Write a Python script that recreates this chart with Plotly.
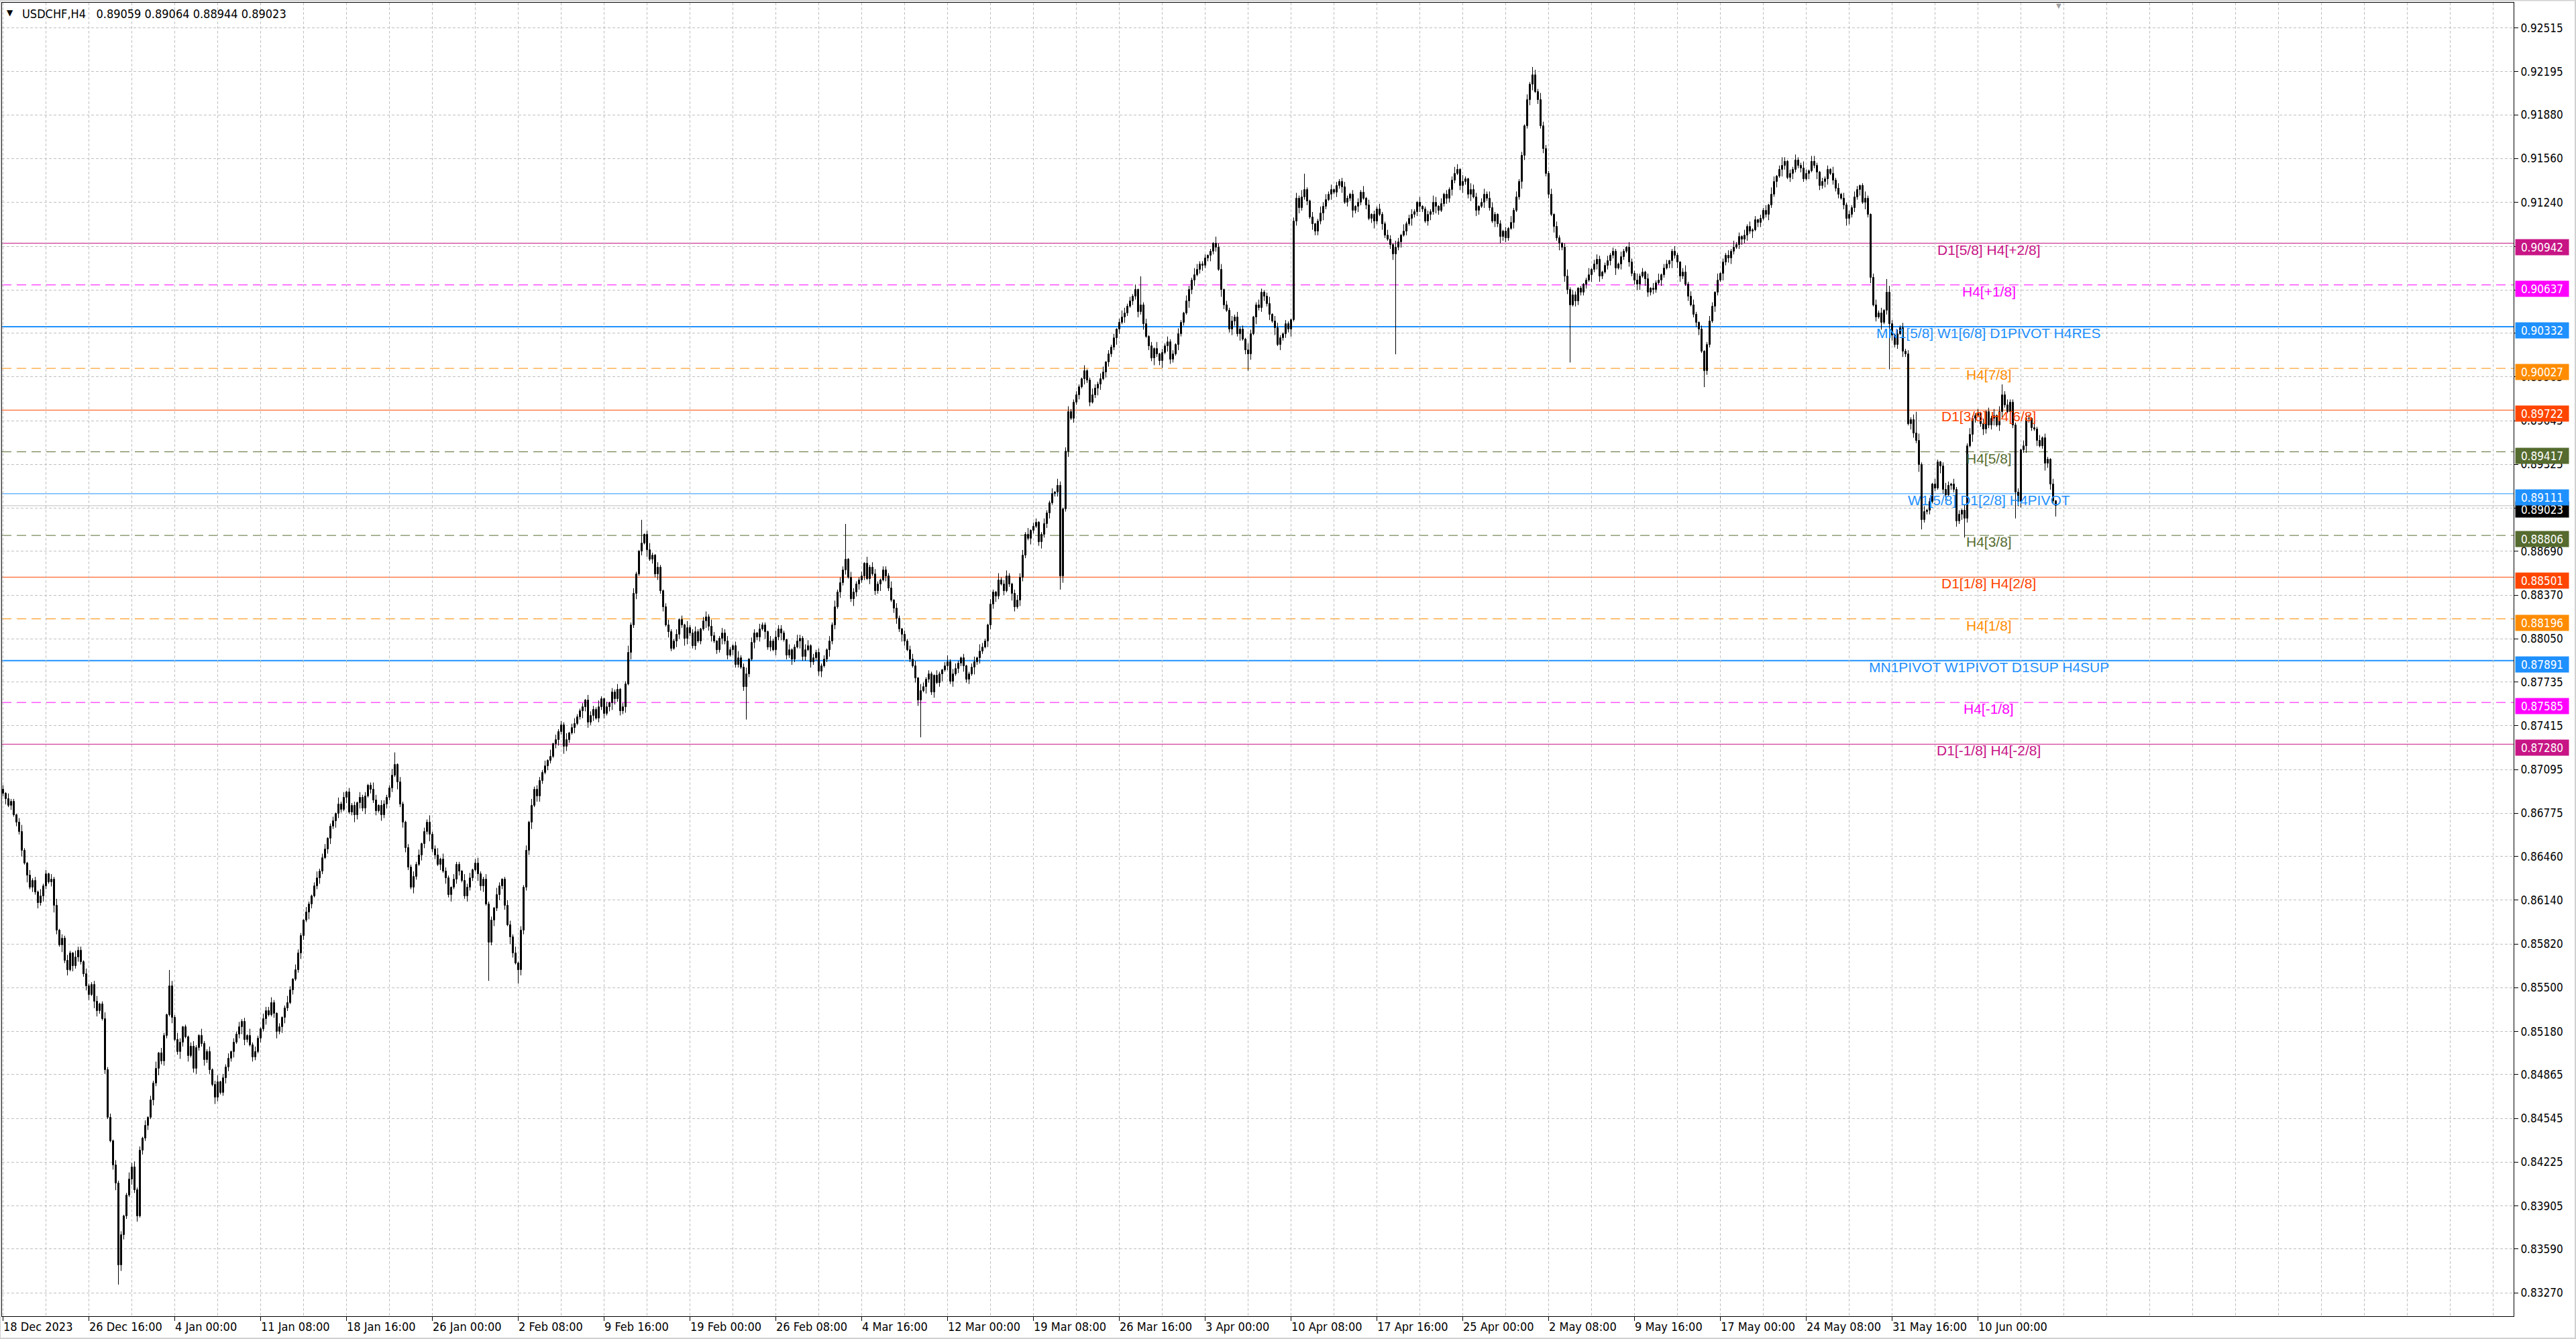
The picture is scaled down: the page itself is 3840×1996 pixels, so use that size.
import numpy as np
import plotly.graph_objects as go

# chart header
symbol_text = "USDCHF,H4\u00a0\u00a0 0.89059 0.89064 0.88944 0.89023"

# H4 closes in pips (0.xxxx), bar 0 = 18 Dec 2023 00:00
first_open_pips = 8695
close_pips = [
    8692, 8688, 8683, 8686, 8676, 8671, 8664, 8650, 8641, 8632, 8623, 8628, 8620, 8612, 8617,
    8624, 8633, 8627, 8629, 8610, 8592, 8581, 8586, 8570, 8563, 8575, 8566, 8572, 8577, 8569,
    8560, 8551, 8545, 8552, 8540, 8533, 8538, 8527, 8490, 8455, 8438, 8420, 8407, 8347, 8369,
    8383, 8398, 8410, 8419, 8402, 8383, 8431, 8440, 8449, 8455, 8468, 8480, 8491, 8502, 8496,
    8515, 8530, 8551, 8528, 8512, 8503, 8510, 8521, 8514, 8500, 8507, 8491, 8506, 8515, 8509,
    8497, 8503, 8490, 8479, 8470, 8481, 8473, 8484, 8492, 8498, 8503, 8510, 8516, 8521, 8525,
    8512, 8515, 8508, 8499, 8503, 8513, 8520, 8527, 8533, 8530, 8539, 8531, 8518, 8521, 8528,
    8535, 8539, 8548, 8556, 8563, 8575, 8588, 8599, 8605, 8611, 8617, 8624, 8630, 8635, 8645,
    8651, 8659, 8668, 8672, 8677, 8684, 8680, 8689, 8693, 8678, 8683, 8676, 8685, 8689, 8681,
    8690, 8698, 8695, 8687, 8679, 8683, 8676, 8684, 8689, 8696, 8705, 8713, 8700, 8684, 8671,
    8652, 8638, 8623, 8631, 8640, 8647, 8655, 8664, 8671, 8662, 8651, 8647, 8640, 8644, 8635,
    8630, 8618, 8623, 8629, 8640, 8635, 8628, 8617, 8623, 8630, 8636, 8641, 8633, 8624, 8629,
    8611, 8583, 8599, 8608, 8618, 8624, 8629, 8610, 8596, 8587, 8575, 8568, 8563, 8592, 8623,
    8650, 8671, 8683, 8695, 8690, 8701, 8707, 8712, 8716, 8719, 8728, 8731, 8737, 8742, 8726,
    8731, 8736, 8740, 8743, 8748, 8752, 8755, 8760, 8744, 8749, 8753, 8747, 8755, 8761, 8750,
    8755, 8758, 8766, 8761, 8768, 8752, 8755, 8772, 8795, 8815, 8838, 8852, 8869, 8875, 8881,
    8870, 8863, 8866, 8852, 8857, 8840, 8828, 8815, 8810, 8798, 8803, 8808, 8819, 8815, 8805,
    8813, 8809, 8800, 8810, 8803, 8812, 8818, 8821, 8814, 8807, 8803, 8797, 8805, 8809, 8803,
    8793, 8797, 8800, 8786, 8791, 8784, 8770, 8779, 8790, 8802, 8809, 8806, 8812, 8815, 8810,
    8799, 8803, 8797, 8806, 8812, 8809, 8804, 8793, 8797, 8790, 8799, 8803, 8805, 8792, 8797,
    8800, 8788, 8791, 8795, 8781, 8785, 8790, 8797, 8803, 8815, 8828, 8839, 8846, 8855, 8863,
    8850, 8834, 8839, 8845, 8848, 8851, 8860, 8849, 8857, 8852, 8840, 8845, 8848, 8855, 8851,
    8842, 8833, 8827, 8820, 8812, 8808, 8803, 8797, 8790, 8785, 8776, 8760, 8767, 8770, 8775,
    8779, 8766, 8778, 8773, 8779, 8782, 8785, 8788, 8774, 8779, 8783, 8787, 8791, 8785, 8775,
    8779, 8784, 8788, 8791, 8796, 8799, 8803, 8815, 8830, 8839, 8836, 8848, 8845, 8840, 8851,
    8845, 8838, 8828, 8833, 8850, 8866, 8881, 8878, 8884, 8887, 8890, 8876, 8881, 8889, 8897,
    8904, 8911, 8912, 8917, 8851, 8900, 8942, 8971, 8966, 8978, 8983, 8989, 8995, 9001, 8994,
    8978, 8983, 8988, 8991, 8995, 9000, 9007, 9013, 9018, 9025, 9031, 9036, 9040, 9043, 9048,
    9052, 9055, 9060, 9044, 9049, 9035, 9026, 9019, 9010, 9017, 9013, 9008, 9014, 9019, 9022,
    9009, 9013, 9020, 9028, 9036, 9043, 9052, 9060, 9067, 9071, 9075, 9079, 9078, 9083, 9085,
    9088, 9094, 9091, 9075, 9060, 9049, 9045, 9031, 9037, 9040, 9028, 9031, 9024, 9016, 9013,
    9028, 9040, 9049, 9047, 9058, 9055, 9050, 9042, 9037, 9032, 9020, 9025, 9028, 9035, 9031,
    9038, 9110, 9127, 9120, 9128, 9133, 9125, 9113, 9108, 9103, 9110, 9116, 9121, 9126, 9130,
    9133, 9131, 9136, 9139, 9135, 9124, 9127, 9130, 9118, 9121, 9124, 9131, 9127, 9122, 9112,
    9115, 9110, 9119, 9115, 9108, 9100, 9097, 9093, 9086, 9091, 9095, 9100, 9103, 9108, 9112,
    9115, 9117, 9124, 9121, 9119, 9110, 9115, 9117, 9124, 9121, 9118, 9123, 9130, 9127, 9133,
    9140, 9145, 9148, 9136, 9139, 9141, 9130, 9133, 9128, 9118, 9121, 9124, 9130, 9127, 9120,
    9110, 9115, 9108, 9099, 9103, 9098, 9105, 9109, 9118, 9128, 9139, 9158, 9180, 9199, 9210,
    9217, 9205, 9199, 9180, 9163, 9145, 9130, 9115, 9106, 9098, 9094, 9091, 9070, 9060, 9049,
    9056, 9052, 9061, 9058, 9064, 9067, 9071, 9075, 9079, 9082, 9070, 9073, 9078, 9081, 9085,
    9088, 9076, 9079, 9084, 9088, 9091, 9080, 9072, 9067, 9064, 9070, 9073, 9068, 9058, 9061,
    9060, 9065, 9067, 9071, 9076, 9079, 9081, 9088, 9085, 9080, 9070, 9073, 9064, 9055, 9049,
    9042, 9036, 9031, 9015, 9001, 9020, 9037, 9048, 9058, 9067, 9072, 9080, 9085, 9083, 9088,
    9091, 9093, 9099, 9097, 9100, 9106, 9103, 9104, 9111, 9109, 9112, 9118, 9115, 9122, 9130,
    9139, 9143, 9148, 9151, 9154, 9142, 9145, 9148, 9155, 9151, 9149, 9141, 9145, 9147, 9154,
    9151, 9146, 9136, 9139, 9141, 9148, 9145, 9140, 9134, 9130, 9127, 9122, 9112, 9115, 9120,
    9128, 9133, 9136, 9124, 9127, 9115, 9069, 9049, 9040, 9043, 9036, 9045, 9058, 9035, 9027,
    9020, 9028, 9032, 9015, 9013, 8962, 8965, 8955, 8950, 8932, 8892, 8898, 8899, 8905, 8918,
    8915, 8934, 8931, 8914, 8910, 8917, 8918, 8914, 8891, 8896, 8899, 8893, 8946, 8954, 8966,
    8968, 8970, 8962, 8958, 8971, 8961, 8966, 8968, 8961, 8971, 8983, 8976, 8971, 8978, 8961,
    8912, 8905, 8943, 8946, 8966, 8966, 8959, 8958, 8950, 8946, 8952, 8933, 8936, 8918, 8905.9,
    8902.3,
]

# wick length per bar in pips, above and below the body
up_wick_pips = (
    "31422 13521 42315 23142 51324 21533 14223 41252 31423 12534"
    "23141 32514 21342 53121 34215 22413 51324 13242 31524 21433"
    "42131 25314 32142 13523 41231 52413 23142 31254 14322 53142"
    "13242 41325 23514 32142 21534 13422 42315 31243 25132 41523"
    "32415 14232 51342 23143 32521 41324 13252 42131 35214 21342"
    "24131 52342 13425 31243 42135 23514 31422 14253 32141 25324"
    "41323 23142 52431 14322 31524 42133 25142 13234 41532 32142"
    "13524 42131 23415 32142 15234 21343 42513 31242 24153 13422"
    "32141 25324 41323 13542 32415 24131 51324 23142 14325 42231"
    "21534 13242 42315 31243 23514 42132 13425 32141 25342 41323"
    "42131 32514 13242 24315 31523 42141 23254 14132 32415 21543"
    "13425 42131 31524 23142 14253 32414 21352 43121 25134 31242"
    "32142 14325 23141 42513 31242 13524 42131 24315 13242 52314"
    "24131 32415 41323 13242 25314 42132 31524 14232 43125 21342"
    "41253 13242 32415 24131 42135 31423 14252 23141 32514 13422"
    "23142 31524 13214 2"
)
down_wick_pips = (
    "24131 32415 13242 42135 31524 14232 23415 42131 13524 32142"
    "41323 14252 32141 25314 13422 42315 31243 24135 42132 13241"
    "13524 42131 24315 31242 13425 32141 25342 41323 14232 31524"
    "32142 14325 23141 42513 31242 21534 13242 42315 31243 23514"
    "42132 13425 32141 25342 41323 13542 32415 24131 51324 23142"
    "14325 42231 21534 13242 31422 13521 42315 23142 51324 21533"
    "14223 41252 31423 12534 23141 32514 21342 53121 34215 22413"
    "51324 13242 31524 21433 42131 25314 32142 13523 41231 52413"
    "23142 31254 14322 53142 13242 41325 23514 32142 21534 13422"
    "42315 31243 25132 41523 32415 14232 51342 23143 32521 41324"
    "13252 42131 35214 21342 24131 52342 13425 31243 42135 23514"
    "31422 14253 32141 25324 41323 23142 52431 14322 31524 42133"
    "25142 13234 41532 32142 13524 42131 23415 32142 15234 21343"
    "42513 31242 24153 13422 32141 25324 41323 13542 32415 24131"
    "51324 23142 14325 42231 21534 13242 42315 31243 23514 42132"
    "13425 32141 25342 4"
)

# long shadows that stand out on the chart (bar index: price in pips)
spike_highs = {62: 8563, 146: 8722, 238: 8892, 314: 8889, 424: 9070, 485: 9145,
               541: 9150, 570: 9223, 663: 9157, 702: 9068, 713: 8971, 745: 8991,
               765: 8906.4}
spike_lows = {43: 8333, 181: 8555, 192: 8553, 277: 8746, 342: 8733, 394: 8841,
              464: 9001, 519: 9013, 584: 9007, 634: 8989, 703: 9002, 715: 8885,
              731: 8879, 750: 8893, 765: 8894.4}

time_labels = ["18 Dec 2023", "26 Dec 16:00", "4 Jan 00:00", "11 Jan 08:00", "18 Jan 16:00",
               "26 Jan 00:00", "2 Feb 08:00", "9 Feb 16:00", "19 Feb 00:00", "26 Feb 08:00",
               "4 Mar 16:00", "12 Mar 00:00", "19 Mar 08:00", "26 Mar 16:00", "3 Apr 00:00",
               "10 Apr 08:00", "17 Apr 16:00", "25 Apr 00:00", "2 May 08:00", "9 May 16:00",
               "17 May 00:00", "24 May 08:00", "31 May 16:00", "10 Jun 00:00"]
bars_per_label = 32

price_ticks = [0.92515, 0.92195, 0.91880, 0.91560, 0.91240, 0.90920, 0.90600, 0.90285,
               0.89965, 0.89645, 0.89325, 0.89005, 0.88690, 0.88370, 0.88050, 0.87735,
               0.87415, 0.87095, 0.86775, 0.86460, 0.86140, 0.85820, 0.85500, 0.85180,
               0.84865, 0.84545, 0.84225, 0.83905, 0.83590, 0.83270]

# Murrey levels: price, colour, dashed, label
level_prices = [0.90942, 0.90637, 0.90332, 0.90027, 0.89722, 0.89417, 0.89111,
                0.88806, 0.88501, 0.88196, 0.87891, 0.87585, 0.87280]
level_colors = ["#C71585", "#FF00FF", "#1E90FF", "#FF8C00", "#FF4500", "#556B2F", "#1E90FF",
                "#556B2F", "#FF4500", "#FF8C00", "#1E90FF", "#FF00FF", "#C71585"]
level_dashed = [False, True, False, True, False, True, False,
                True, False, True, False, True, False]
level_labels = ["D1[5/8] H4[+2/8]", "H4[+1/8]", "MN1[5/8] W1[6/8] D1PIVOT H4RES", "H4[7/8]",
                "D1[3/8] H4[6/8]", "H4[5/8]", "W1[5/8] D1[2/8] H4PIVOT", "H4[3/8]",
                "D1[1/8] H4[2/8]", "H4[1/8]", "MN1PIVOT W1PIVOT D1SUP H4SUP", "H4[-1/8]",
                "D1[-1/8] H4[-2/8]"]
bid_price = 0.89023

# ---- build bars
n = len(close_pips)
close = np.array(close_pips, dtype=float) / 10000
open_ = np.concatenate([[first_open_pips / 10000], close[:-1]])
up = np.array([int(c) for c in up_wick_pips.replace(" ", "")[:n]]) / 10000
down = np.array([int(c) for c in down_wick_pips.replace(" ", "")[:n]]) / 10000
high = np.maximum(open_, close) + up
low = np.minimum(open_, close) - down
for i, v in spike_highs.items():
    high[i] = v / 10000
for i, v in spike_lows.items():
    low[i] = v / 10000
bars = np.arange(n)

W, H = 3840, 1996
ML, MR, MT, MB = 3, 93, 4, 34
GRID = "#C0C0C0"
AXIS_FONT = "DejaVu Sans Condensed, DejaVu Sans, sans-serif"
LABEL_BAR = 740  # where the level captions sit

fig = go.Figure()

# shadows
wx, wy = [], []
for i in range(n):
    wx += [i, i, None]
    wy += [low[i], high[i], None]
fig.add_trace(go.Scatter(x=wx, y=wy, mode="lines", line=dict(color="black", width=1),
                         hoverinfo="skip", showlegend=False))

# bodies: white = up bar, black = down bar
body_base = np.minimum(open_, close)
body_len = np.maximum(np.abs(close - open_), 0.000004)
body_fill = np.where(close > open_, "white", "black")
fig.add_trace(go.Bar(x=bars, y=body_len, base=body_base, width=0.5,
                     marker=dict(color=body_fill, line=dict(color="black", width=1)),
                     hoverinfo="skip", showlegend=False))

label_bars = [k * bars_per_label for k in range(len(time_labels))]

shapes = []
annotations = []

# bid line
shapes.append(dict(type="line", xref="paper", x0=0, x1=1, yref="y", y0=bid_price, y1=bid_price,
                   line=dict(color="#C0C0C0", width=1), layer="between"))

for p, c, d, lab in zip(level_prices, level_colors, level_dashed, level_labels):
    wdt = 2 if (c == "#1E90FF" and lab.startswith("MN1")) else 1
    shapes.append(dict(type="line", xref="paper", x0=0, x1=1, yref="y", y0=p, y1=p,
                       line=dict(color=c, width=wdt, dash="14px,8px" if d else "solid"),
                       layer="between"))
    annotations.append(dict(x=LABEL_BAR, y=p, xref="x", yref="y", text=lab, showarrow=False,
                            xanchor="center", yanchor="top", yshift=4,
                            font=dict(family="Liberation Sans, Arial, sans-serif", size=21, color=c)))

# price boxes on the right scale
annotations.append(dict(x=1, y=bid_price, xref="paper", yref="y", text=f"{bid_price:.5f}",
                        showarrow=False, xanchor="left", yanchor="top", xshift=2, yshift=7,
                        bgcolor="black", width=75, height=19, borderpad=2, align="center",
                        font=dict(family=AXIS_FONT, size=17, color="white")))
for p, c in zip(level_prices, level_colors):
    annotations.append(dict(x=1, y=p, xref="paper", yref="y", text=f"{p:.5f}",
                            showarrow=False, xanchor="left", yanchor="top", xshift=2, yshift=7,
                            bgcolor=c, width=75, height=19, borderpad=2, align="center",
                            font=dict(family=AXIS_FONT, size=17, color="white")))

# time labels, left-aligned on their ticks
for b, t in zip(label_bars, time_labels):
    annotations.append(dict(x=b, y=0, xref="x", yref="paper", text=t, showarrow=False,
                            xanchor="left", yanchor="top", xshift=-2, yshift=-3,
                            font=dict(family=AXIS_FONT, size=18, color="black")))

# header
annotations.append(dict(x=0, y=1, xref="paper", yref="paper", text="▼", showarrow=False,
                        xanchor="left", yanchor="top", xshift=5, yshift=-6,
                        font=dict(family="DejaVu Sans", size=12, color="black")))
annotations.append(dict(x=0, y=1, xref="paper", yref="paper", text=symbol_text, showarrow=False,
                        xanchor="left", yanchor="top", xshift=28, yshift=-4,
                        font=dict(family=AXIS_FONT, size=18, color="black")))
# chart shift marker
annotations.append(dict(x=n, y=1, xref="x", yref="paper", text="▼", showarrow=False,
                        xanchor="center", yanchor="top", yshift=3,
                        font=dict(family="DejaVu Sans", size=10, color="#A0A0A0")))

# window frame
pw, ph = W - ML - MR, H - MT - MB
shapes.append(dict(type="rect", xref="paper", yref="paper",
                   x0=-ML / pw, x1=(W - ML - 1) / pw, y0=-(MB - 1) / ph, y1=(ph + MT - 0.5) / ph,
                   line=dict(color="#D0D0D0", width=2), layer="below"))

fig.update_layout(
    width=W, height=H,
    margin=dict(l=ML, r=MR, t=MT, b=MB),
    paper_bgcolor="white", plot_bgcolor="white",
    showlegend=False, bargap=0,
    shapes=shapes, annotations=annotations,
    xaxis=dict(
        range=[-0.375, 935.625],
        tickvals=label_bars, ticktext=[""] * len(label_bars),
        ticks="outside", ticklen=6, tickcolor="black",
        showgrid=True, gridcolor=GRID, griddash="4px,3px", gridwidth=1,
        minor=dict(dtick=16, tick0=0, showgrid=True, gridcolor=GRID, griddash="4px,3px", ticks=""),
        showline=True, linecolor="black", linewidth=1, mirror=True,
        zeroline=False, automargin=False, fixedrange=True,
    ),
    yaxis=dict(
        side="right", range=[0.83099, 0.92700],
        tickvals=price_ticks, ticktext=[f"{v:.5f}" for v in price_ticks],
        ticks="outside", ticklen=6, tickcolor="black",
        tickfont=dict(family=AXIS_FONT, size=17, color="black"),
        showgrid=True, gridcolor=GRID, griddash="4px,3px", gridwidth=1,
        showline=True, linecolor="black", linewidth=1, mirror=True,
        zeroline=False, automargin=False, fixedrange=True,
    ),
)

fig.write_html("out.html", config={"displayModeBar": False},
               post_script="document.body.style.margin='0px';document.body.style.overflow='hidden';")
